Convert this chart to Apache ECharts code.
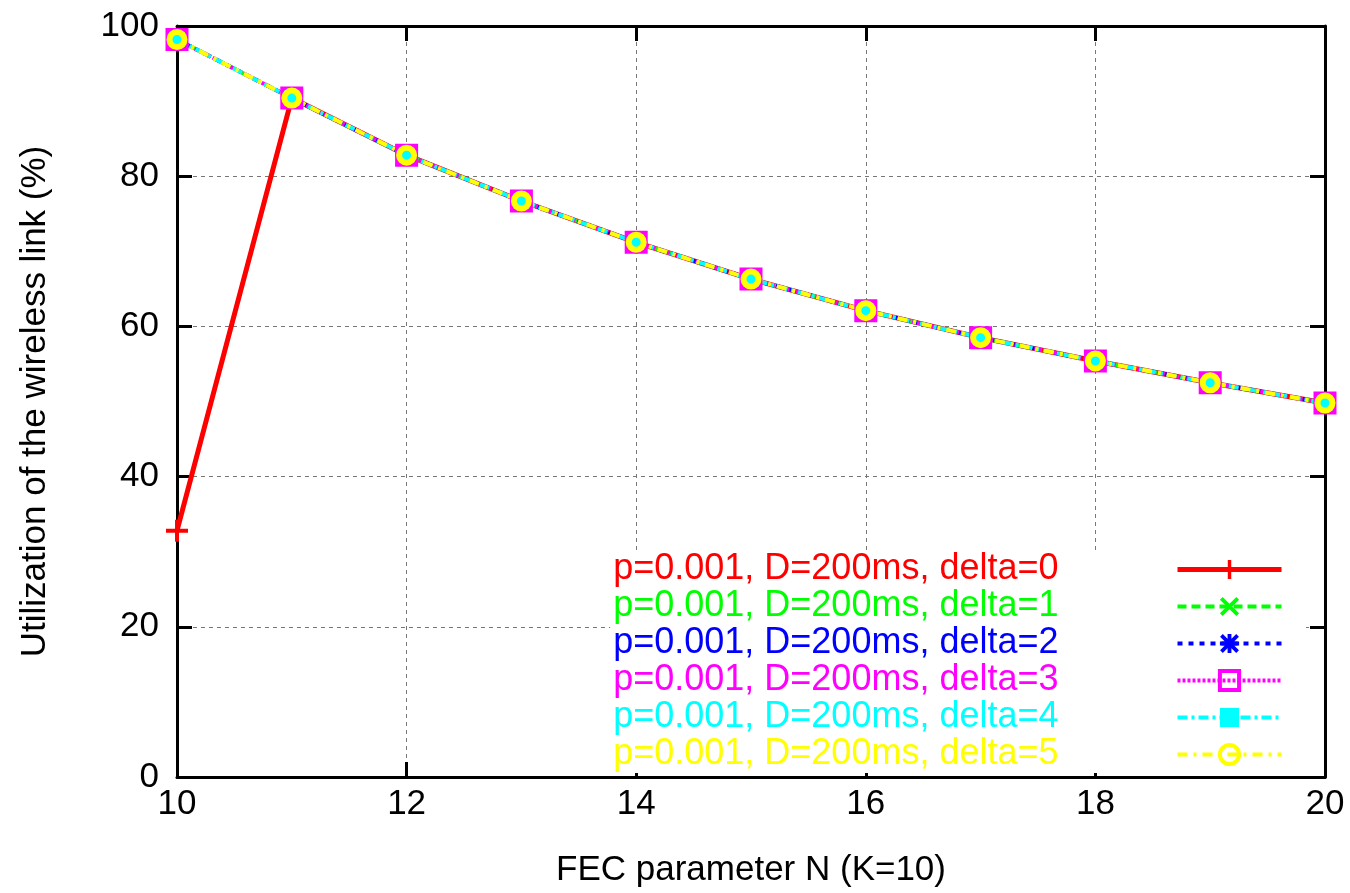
<!DOCTYPE html>
<html>
<head>
<meta charset="utf-8">
<script src="https://cdn.jsdelivr.net/npm/echarts@6/dist/echarts.min.js"></script>
<style>
  html, body { margin: 0; padding: 0; background: #fff; }
  #chart { width: 1350px; height: 893px; }
</style>
</head>
<body>
<div id="chart"></div>
<script>
// FEC parameter N (K=10)
const nValues = [10, 11, 12, 13, 14, 15, 16, 17, 18, 19, 20]
// utilization (%)
const utilDelta0 = [32.8, 90.4, 82.8, 76.7, 71.2, 66.3, 62.1, 58.5, 55.4, 52.5, 49.8]
const utilDelta1 = [98.2, 90.4, 82.8, 76.7, 71.2, 66.3, 62.1, 58.5, 55.4, 52.5, 49.8]
const utilDelta2 = [98.2, 90.4, 82.8, 76.7, 71.2, 66.3, 62.1, 58.5, 55.4, 52.5, 49.8]
const utilDelta3 = [98.2, 90.4, 82.8, 76.7, 71.2, 66.3, 62.1, 58.5, 55.4, 52.5, 49.8]
const utilDelta4 = [98.2, 90.4, 82.8, 76.7, 71.2, 66.3, 62.1, 58.5, 55.4, 52.5, 49.8]
const utilDelta5 = [98.2, 90.4, 82.8, 76.7, 71.2, 66.3, 62.1, 58.5, 55.4, 52.5, 49.8]
const seriesNames = [
  'p=0.001, D=200ms, delta=0',
  'p=0.001, D=200ms, delta=1',
  'p=0.001, D=200ms, delta=2',
  'p=0.001, D=200ms, delta=3',
  'p=0.001, D=200ms, delta=4',
  'p=0.001, D=200ms, delta=5'
]
const xTicks = [10, 12, 14, 16, 18, 20]
const yTicks = [0, 20, 40, 60, 80, 100]

const colors = ['#ff0000', '#00ff00', '#0000ff', '#ff00ff', '#00ffff', '#ffff00']
const FONT = '"Liberation Sans", Arial, Helvetica, sans-serif'

const plusPath = 'path://M8.2,0H11.8V8.2H20V11.8H11.8V20H8.2V11.8H0V8.2H8.2Z'
const crossPath = 'path://M3,0.2L19.8,17L17,19.8L0.2,3Z M17,0.2L19.8,3L3,19.8L0.2,17Z'
const starPath = 'path://M8,0H12V8H20V12H12V20H8V12H0V8H8Z M3,0.2L19.8,17L17,19.8L0.2,3Z M17,0.2L19.8,3L3,19.8L0.2,17Z'

const pairs = vals => nValues.map((n, i) => [n, vals[i]])

const styles = [
  { data: utilDelta0, symbol: plusPath, size: 22, width: 5, dash: 'solid', item: { color: colors[0] } },
  { data: utilDelta1, symbol: crossPath, size: 18, width: 4, dash: [9, 5], item: { color: colors[1] } },
  { data: utilDelta2, symbol: starPath, size: 18, width: 4, dash: [5, 6], item: { color: colors[2] } },
  { data: utilDelta3, symbol: 'rect', size: 19, width: 4, dash: [3, 2], item: { color: 'rgba(0,0,0,0)', borderColor: colors[3], borderWidth: 4 } },
  { data: utilDelta4, symbol: 'rect', size: 15, width: 4, dash: [10, 4, 3, 4], item: { color: colors[4] } },
  { data: utilDelta5, symbol: 'circle', size: 15, width: 4, dash: [10, 6, 3, 6], item: { color: 'rgba(0,0,0,0)', borderColor: colors[5], borderWidth: 6 } }
]

const chart = echarts.init(document.getElementById('chart'))

const tickAxis = {
  type: 'value',
  axisLine: { show: true, onZero: false, lineStyle: { color: '#000', width: 3 } },
  axisTick: { show: true, inside: true, length: 15, lineStyle: { color: '#000', width: 3 } },
  axisLabel: { show: false },
  splitLine: { show: false }
}

chart.setOption({
  animation: false,
  backgroundColor: '#fff',
  grid: { left: 177, right: 25, top: 26, bottom: 110 },
  legend: {
    orient: 'vertical',
    right: 44,
    top: 551,
    align: 'right',
    padding: [0, 22, 0, 3],
    backgroundColor: '#fff',
    itemWidth: 104,
    itemHeight: 24,
    itemGap: 0,
    selectedMode: false,
    textStyle: { fontFamily: FONT, fontSize: 36, lineHeight: 37, padding: [0, 114, 0, 0] },
    data: seriesNames.map((name, i) => ({
      name,
      textStyle: { color: colors[i] },
      lineStyle: { width: styles[i].width, type: styles[i].dash, color: colors[i] },
      itemStyle: Object.assign({}, styles[i].item, { borderWidth: styles[i].item.borderWidth ? 4 : 0 })
    }))
  },
  xAxis: [
    {
      type: 'value',
      min: 10, max: 20, interval: 2,
      name: 'FEC parameter N (K=10)',
      nameLocation: 'middle',
      nameGap: 76,
      nameTextStyle: { fontFamily: FONT, fontSize: 35, color: '#000' },
      axisLine: { show: true, onZero: false, lineStyle: { color: '#000', width: 3 } },
      axisTick: { show: true, inside: true, length: 15, lineStyle: { color: '#000', width: 3 } },
      axisLabel: { fontFamily: FONT, fontSize: 35, color: '#000', margin: 10,
        formatter: v => xTicks.includes(v) ? String(v) : '' },
      splitLine: { show: true, showMinLine: false, showMaxLine: false,
        lineStyle: { color: '#777', width: 1, type: [4, 4] } }
    },
    Object.assign({}, tickAxis, { position: 'top', min: 10, max: 20, interval: 2 })
  ],
  yAxis: [
    {
      type: 'value',
      min: 0, max: 100, interval: 20,
      name: 'Utilization of the wireless link (%)',
      nameLocation: 'middle',
      nameGap: 124,
      nameTextStyle: { fontFamily: FONT, fontSize: 35, color: '#000' },
      axisLine: { show: true, onZero: false, lineStyle: { color: '#000', width: 3 } },
      axisTick: { show: true, inside: true, length: 15, lineStyle: { color: '#000', width: 3 } },
      axisLabel: { fontFamily: FONT, fontSize: 35, color: '#000', margin: 18,
        formatter: v => yTicks.includes(v) ? String(v) : '' },
      splitLine: { show: true, showMinLine: false, showMaxLine: false,
        lineStyle: { color: '#777', width: 1, type: [4, 4] } }
    },
    Object.assign({}, tickAxis, { position: 'right', min: 0, max: 100, interval: 20 })
  ],
  series: styles.map((s, i) => ({
    name: seriesNames[i],
    type: 'line',
    data: pairs(s.data),
    symbol: s.symbol,
    symbolSize: s.size,
    showAllSymbol: true,
    lineStyle: { color: colors[i], width: s.width, type: s.dash },
    itemStyle: s.item,
    emphasis: { disabled: true }
  }))
})
</script>
</body>
</html>
